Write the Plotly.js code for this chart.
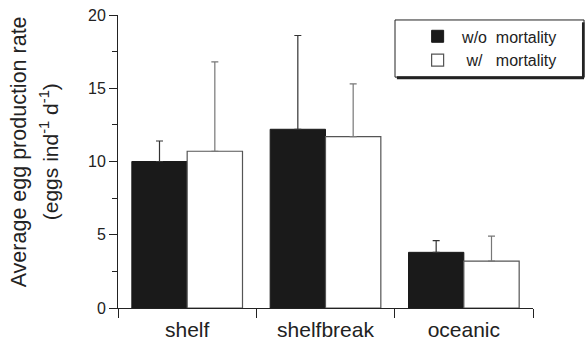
<!DOCTYPE html>
<html>
<head>
<meta charset="utf-8">
<script src="https://cdn.plot.ly/plotly-3.0.1.min.js"></script>
<style>html,body{margin:0;padding:0;background:#fff;}</style>
</head>
<body>
<div id="chart" style="width:586px;height:345px;"></div>
<script>
// Data
const categories = ["shelf", "shelfbreak", "oceanic"];
const withoutMortality = [10.0, 12.2, 3.8];
const withoutMortalityErr = [1.4, 6.4, 0.8];
const withMortality = [10.7, 11.7, 3.2];
const withMortalityErr = [6.1, 3.6, 1.7];
const seriesNames = ["\u00a0w/o\u00a0\u00a0mortality", "\u00a0\u00a0w/\u00a0\u00a0\u00a0mortality"];
const yTitle1 = "Average egg production rate";
const yTitle2 = "(eggs ind<sup>-1</sup> d<sup>-1</sup>)";

const FONT = "Liberation Sans, Arial, Helvetica, sans-serif";
const INK = "#222";

const traces = [
  {
    type: "bar", name: seriesNames[0], x: categories, y: withoutMortality,
    marker: {color: "#1a1a1a", line: {color: "#1a1a1a", width: 1}},
    error_y: {type: "data", array: withoutMortalityErr, symmetric: false, arrayminus: [0,0,0],
              color: "#333", thickness: 1.2, width: 3.5}
  },
  {
    type: "bar", name: seriesNames[1], x: categories, y: withMortality,
    marker: {color: "#ffffff", line: {color: "#555", width: 1.2}},
    error_y: {type: "data", array: withMortalityErr, symmetric: false, arrayminus: [0,0,0],
              color: "#777", thickness: 1.2, width: 3.5}
  }
];

const layout = {
  width: 586, height: 345,
  margin: {l: 118, r: 53, t: 15, b: 37},
  paper_bgcolor: "#fff", plot_bgcolor: "#fff",
  barmode: "group", bargap: 0.2, bargroupgap: 0,
  font: {family: FONT, color: INK},
  showlegend: true,
  legend: {
    x: 0.722, y: 0.985, xanchor: "left", yanchor: "top",
    bgcolor: "rgba(0,0,0,0)", borderwidth: 0,
    font: {family: FONT, size: 16, color: INK},
    tracegroupgap: 0
  },
  xaxis: {
    type: "category", tickson: "boundaries", ticks: "outside", ticklen: 9,
    tickwidth: 1, tickcolor: INK, showline: true, linecolor: INK, linewidth: 1,
    showgrid: false, zeroline: false, ticklabelstandoff: 3,
    tickfont: {family: FONT, size: 21, color: INK}
  },
  yaxis: {
    range: [0, 20], dtick: 5, tick0: 0, ticks: "outside", ticklen: 8,
    tickwidth: 1, tickcolor: INK, showline: true, linecolor: INK, linewidth: 1,
    showgrid: false, zeroline: false,
    minor: {dtick: 2.5, ticks: "outside", ticklen: 5, tickcolor: INK, tickwidth: 1, showgrid: false},
    tickfont: {family: FONT, size: 16, color: INK}
  },
  annotations: [
    {text: yTitle1, xref: "paper", yref: "paper", x: -0.238, y: 0.532,
     xanchor: "center", yanchor: "middle", textangle: -90, showarrow: false,
     font: {family: FONT, size: 21.5, color: INK}},
    {text: yTitle2, xref: "paper", yref: "paper", x: -0.166, y: 0.532,
     xanchor: "center", yanchor: "middle", textangle: -90, showarrow: false,
     font: {family: FONT, size: 21, color: INK}}
  ],
  shapes: [
    {type: "rect", xref: "paper", yref: "paper", x0: 0.6675, x1: 1.123, y0: 0.788, y1: 0.983,
     line: {color: INK, width: 1}, fillcolor: "rgba(0,0,0,0)"},
    {type: "line", xref: "paper", yref: "paper", x0: 0.672, x1: 1.123, y0: 0.786, y1: 0.786,
     line: {color: INK, width: 3}},
    {type: "line", xref: "paper", yref: "paper", x0: 1.121, x1: 1.121, y0: 0.786, y1: 0.975,
     line: {color: INK, width: 2.5}}
  ]
};

Plotly.newPlot("chart", traces, layout, {displayModeBar: false, staticPlot: true});
</script>
</body>
</html>
